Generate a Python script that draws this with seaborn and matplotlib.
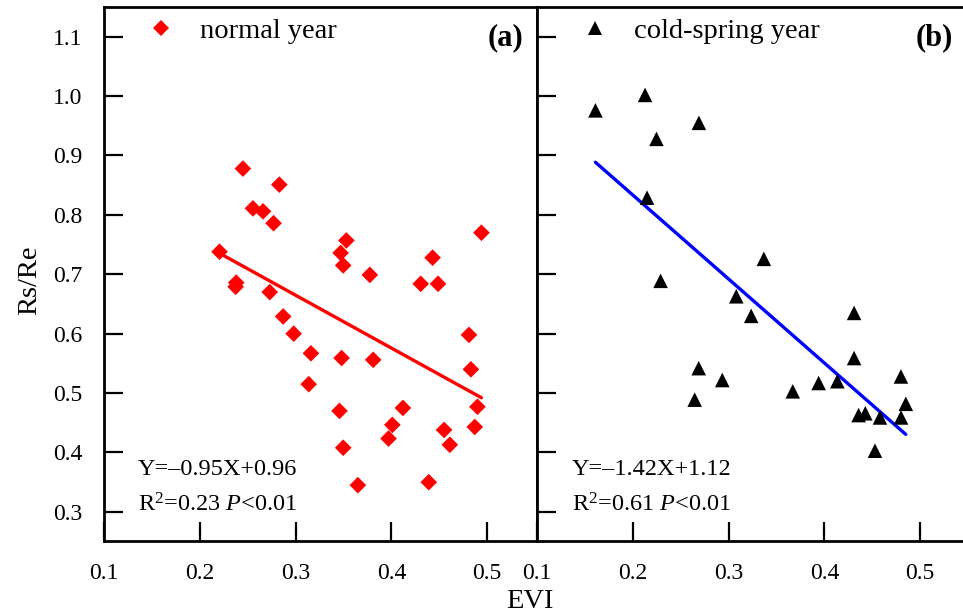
import numpy as np
import pandas as pd
import matplotlib
matplotlib.use("Agg")
import matplotlib.pyplot as plt
import seaborn as sns

# ---- data ----
evi_normal = [0.245, 0.283, 0.2555, 0.266, 0.277, 0.2206, 0.353, 0.347, 0.3497, 0.3775,
              0.443, 0.4306, 0.4487, 0.494, 0.238, 0.2374, 0.273, 0.287, 0.298, 0.316,
              0.348, 0.381, 0.481, 0.483, 0.3137, 0.3458, 0.412, 0.401, 0.397, 0.3497,
              0.455, 0.461, 0.4898, 0.487, 0.365, 0.439]
rsre_normal = [0.878, 0.851, 0.811, 0.806, 0.786, 0.738, 0.757, 0.736, 0.715, 0.699,
               0.728, 0.684, 0.684, 0.770, 0.686, 0.679, 0.670, 0.629, 0.600, 0.567,
               0.559, 0.556, 0.598, 0.540, 0.515, 0.470, 0.475, 0.4465, 0.4235, 0.408,
               0.438, 0.413, 0.477, 0.443, 0.345, 0.350]

evi_cold = [0.2128, 0.161, 0.269, 0.2247, 0.2149, 0.3368, 0.229, 0.308, 0.3236, 0.431,
            0.2688, 0.2934, 0.2646, 0.367, 0.394, 0.4135, 0.431, 0.4799, 0.485, 0.4357,
            0.4427, 0.458, 0.480, 0.4528]
rsre_cold = [1.002, 0.976, 0.955, 0.928, 0.829, 0.726, 0.689, 0.663, 0.630, 0.635,
             0.542, 0.522, 0.489, 0.503, 0.517, 0.520, 0.559, 0.528, 0.482, 0.463,
             0.466, 0.459, 0.459, 0.403]

x_ticks = [0.1, 0.2, 0.3, 0.4, 0.5]
y_ticks = [0.3, 0.4, 0.5, 0.6, 0.7, 0.8, 0.9, 1.0, 1.1]
x_tick_labels = ["0.1", "0.2", "0.3", "0.4", "0.5"]
y_tick_labels = ["0.3", "0.4", "0.5", "0.6", "0.7", "0.8", "0.9", "1.0", "1.1"]

label_normal = "normal year"
label_cold = "cold-spring year"
eq_normal = "Y=\u20130.95X+0.96"
stat_normal = r"$\mathrm{R}^{2}$=0.23 $P$<0.01"
eq_cold = "Y=\u20131.42X+1.12"
stat_cold = r"$\mathrm{R}^{2}$=0.61 $P$<0.01"

df_n = pd.DataFrame({"EVI": evi_normal, "RsRe": rsre_normal, "group": label_normal})
df_c = pd.DataFrame({"EVI": evi_cold, "RsRe": rsre_cold, "group": label_cold})

# ---- style ----
sns.set_theme(style="white")
plt.rcParams["font.family"] = ["Liberation Serif", "DejaVu Serif"]
plt.rcParams["mathtext.fontset"] = "custom"
plt.rcParams["mathtext.rm"] = "Liberation Serif"
plt.rcParams["mathtext.it"] = "Liberation Serif:italic"
plt.rcParams["mathtext.bf"] = "Liberation Serif:bold"
for k in ("text.color", "axes.labelcolor", "xtick.color", "ytick.color", "axes.edgecolor"):
    plt.rcParams[k] = "black"

W, H = 963, 615
fig = plt.figure(figsize=(W / 100, H / 100), dpi=100)
fig.patch.set_facecolor("white")

ax_w = 433 / W
ax_h = 534 / H
ax_b = (H - 541) / H
axL = fig.add_axes([104 / W, ax_b, ax_w, ax_h])
axR = fig.add_axes([537 / W, ax_b, ax_w, ax_h])

XLIM = (0.1, 0.552)
YLIM = (0.251, 1.150)

# panel (a)
sns.scatterplot(data=df_n, x="EVI", y="RsRe", hue="group", palette=["#ff0000"],
                marker="D", s=72, linewidth=0, ax=axL, zorder=3)
sns.regplot(data=df_n, x="EVI", y="RsRe", scatter=False, ci=None, truncate=True,
            color="#ff0000", line_kws=dict(lw=2.4), ax=axL)

# panel (b)
sns.scatterplot(data=df_c, x="EVI", y="RsRe", hue="group", palette=["#000000"],
                marker="^", s=110, linewidth=0, ax=axR, zorder=3)
sns.regplot(data=df_c, x="EVI", y="RsRe", scatter=False, ci=None, truncate=True,
            color="#0000ff", line_kws=dict(lw=2.4), ax=axR)

for ax in (axL, axR):
    ax.set_xlim(*XLIM)
    ax.set_ylim(*YLIM)
    ax.set_xticks(x_ticks)
    ax.set_yticks(y_ticks)
    ax.tick_params(axis="both", which="major", direction="in", length=13.7, width=1.6,
                   color="black", labelcolor="black",
                   bottom=True, left=True, top=False, right=False)
    ax.tick_params(axis="x", pad=16, labelsize=17)
    ax.tick_params(axis="y", pad=15.5, labelsize=17)
    for sp in ax.spines.values():
        sp.set_color("black")
        sp.set_linewidth(2.0)
    ax.set_xlabel("")
    ax.set_ylabel("")
    ax.set_facecolor("white")

axL.set_xticklabels(x_tick_labels)
axL.set_yticklabels(y_tick_labels)
axR.set_xticklabels(x_tick_labels)
axR.tick_params(axis="y", labelleft=False)

axL.set_ylabel("Rs/Re", fontsize=20.5, va="center")
axL.yaxis.set_label_coords(-0.172, 0.489)
axL.set_xlabel("EVI", fontsize=20.5, va="center")
axL.xaxis.set_label_coords(0.984, -0.114)

# legends
for ax, x0 in ((axL, 0.0993), (axR, 0.1016)):
    leg = ax.legend(loc="center left", bbox_to_anchor=(x0, 0.955), frameon=False,
                    borderpad=0, borderaxespad=0, handlelength=1.0,
                    handletextpad=0.86, fontsize=20.5, title=None)
    for t in leg.get_texts():
        t.set_color("black")

# panel labels and statistics
axL.text(0.968, 0.942, "(a)", transform=axL.transAxes, ha="right", va="center",
         fontsize=22, fontweight="bold")
axR.text(0.961, 0.942, "(b)", transform=axR.transAxes, ha="right", va="center",
         fontsize=22, fontweight="bold")

axL.text(0.0785, 0.133, eq_normal, transform=axL.transAxes, ha="left", va="center", fontsize=17.5)
axL.text(0.0785, 0.067, stat_normal, transform=axL.transAxes, ha="left", va="center", fontsize=17.5)
axR.text(0.081, 0.133, eq_cold, transform=axR.transAxes, ha="left", va="center", fontsize=17.5)
axR.text(0.081, 0.067, stat_cold, transform=axR.transAxes, ha="left", va="center", fontsize=17.5)

fig.savefig("out.png", dpi=100, facecolor="white")
